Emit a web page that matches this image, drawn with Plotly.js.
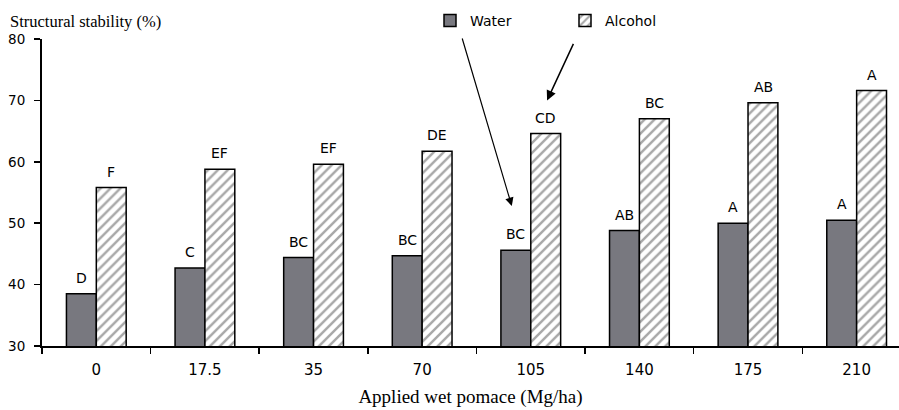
<!DOCTYPE html>
<html>
<head>
<meta charset="utf-8">
<script src="https://cdn.plot.ly/plotly-3.0.1.min.js"></script>
<style>html,body{margin:0;padding:0;background:#fff;}#chart{width:899px;height:410px;}</style>
</head>
<body>
<div id="chart"></div>
<script>
const categories = ['0', '17.5', '35', '70', '105', '140', '175', '210'];
const waterValues = [38.5, 42.7, 44.4, 44.7, 45.6, 48.8, 50.0, 50.5];
const alcoholValues = [55.8, 58.8, 59.6, 61.7, 64.6, 67.0, 69.6, 71.6];
const waterLetters = ['D', 'C', 'BC', 'BC', 'BC', 'AB', 'A', 'A'];
const alcoholLetters = ['F', 'EF', 'EF', 'DE', 'CD', 'BC', 'AB', 'A'];
const yTicks = [30, 40, 50, 60, 70, 80];

const sans = 'DejaVu Sans, Verdana, sans-serif';
const serif = 'Liberation Serif, Times New Roman, serif';

const traces = [
  {
    type: 'bar', name: 'Water', x: categories, y: waterValues,
    marker: {color: '#78787f', line: {color: '#000', width: 1.5}},
    legend: 'legend'
  },
  {
    type: 'bar', name: 'Alcohol', x: categories, y: alcoholValues,
    marker: {color: '#ffffff', line: {color: '#000', width: 1.5},
      pattern: {shape: '/', fgcolor: '#a8a8a8', bgcolor: '#ffffff', size: 7, solidity: 0.35}},
    legend: 'legend2'
  }
];

const annotations = [];
categories.forEach((c, i) => {
  annotations.push({x: i, y: waterValues[i], xref: 'x', yref: 'y', text: waterLetters[i],
    showarrow: false, xshift: -15, yshift: 6, yanchor: 'bottom', font: {family: sans, size: 14, color: '#000'}});
  annotations.push({x: i, y: alcoholValues[i], xref: 'x', yref: 'y', text: alcoholLetters[i],
    showarrow: false, xshift: 15, yshift: 6, yanchor: 'bottom', font: {family: sans, size: 14, color: '#000'}});
});
// pointer arrows from the legend entries
annotations.push({x: 3.825, y: 52.8, xref: 'x', yref: 'y', text: '', showarrow: true,
  ax: -50, ay: -169, arrowhead: 2, arrowsize: 1.4, arrowwidth: 1.2, arrowcolor: '#000'});
annotations.push({x: 4.15, y: 70.0, xref: 'x', yref: 'y', text: '', showarrow: true,
  ax: 27, ay: -58, arrowhead: 2, arrowsize: 1.3, arrowwidth: 1.5, arrowcolor: '#000'});

const layout = {
  width: 899, height: 410,
  margin: {l: 42, r: 0, t: 38.5, b: 63.5},
  paper_bgcolor: '#fff', plot_bgcolor: '#fff',
  barmode: 'group', bargap: 0.45, bargroupgap: 0,
  title: {text: 'Structural stability (%)', font: {family: serif, size: 16.5, color: '#000'},
    x: 10 / 899, xanchor: 'left', xref: 'container', y: 1 - 21 / 410, yanchor: 'middle', yref: 'container'},
  xaxis: {
    type: 'category', range: [-0.5, 7.39], tickson: 'boundaries', ticks: 'outside', ticklen: 6,
    tickcolor: '#000', tickwidth: 1.5, showline: true, linecolor: '#000', linewidth: 2,
    showgrid: false, zeroline: false, ticklabelstandoff: 9,
    tickfont: {family: sans, size: 15, color: '#000'},
    title: {text: 'Applied wet pomace (Mg/ha)', font: {family: serif, size: 19, color: '#000'}, standoff: 12}
  },
  yaxis: {
    range: [30, 80], tickvals: yTicks, ticks: 'outside', ticklen: 6, tickcolor: '#000', tickwidth: 1.5,
    showline: true, linecolor: '#000', linewidth: 2, showgrid: false, zeroline: false,
    ticklabelstandoff: 6, tickfont: {family: sans, size: 13.5, color: '#000'}
  },
  showlegend: true,
  legend: {xref: 'container', yref: 'container', x: 430 / 899, y: 1 - 5 / 410, xanchor: 'left', yanchor: 'top',
    orientation: 'h', font: {family: sans, size: 14, color: '#000'}, bgcolor: 'rgba(0,0,0,0)', itemwidth: 30},
  legend2: {xref: 'container', yref: 'container', x: 565 / 899, y: 1 - 5 / 410, xanchor: 'left', yanchor: 'top',
    orientation: 'h', font: {family: sans, size: 14, color: '#000'}, bgcolor: 'rgba(0,0,0,0)', itemwidth: 30},
  annotations: annotations
};

Plotly.newPlot('chart', traces, layout, {displayModeBar: false, staticPlot: true});
</script>
</body>
</html>
